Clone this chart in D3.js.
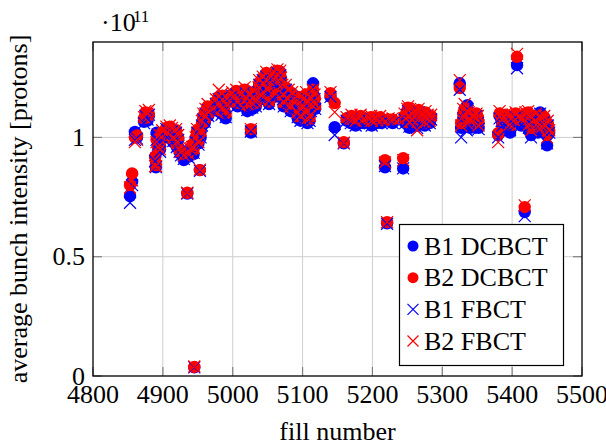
<!DOCTYPE html>
<html>
<head>
<meta charset="utf-8">
<script src="https://cdn.jsdelivr.net/npm/d3@7"></script>
<style>
  body { margin: 0; background: #fff; }
</style>
</head>
<body>
<div id="chart"></div>
<script>
// fill numbers and average bunch intensity (units of 1e11 protons)
const fills = [
  4853, 4856, 4860, 4863, 4873, 4875, 4878, 4880, 4889, 4890, 4891, 4893, 4895, 4896, 4899,
  4905, 4906, 4910, 4913, 4915, 4919, 4920, 4922, 4924, 4926, 4930, 4935, 4937, 4940, 4942,
  4944, 4945, 4947, 4949, 4951, 4953, 4954, 4956, 4958, 4960, 4961, 4964, 4965, 4976, 4979,
  4980, 4984, 4985, 4988, 4990, 4999, 5001, 5005, 5007, 5013, 5017, 5020, 5021, 5024, 5026,
  5028, 5029, 5030, 5033, 5037, 5038, 5040, 5043, 5045, 5048, 5050, 5052, 5056, 5059, 5060,
  5064, 5068, 5069, 5071, 5072, 5073, 5076, 5078, 5080, 5083, 5085, 5091, 5093, 5095, 5096,
  5097, 5101, 5102, 5105, 5106, 5107, 5108, 5110, 5111, 5112, 5115, 5117, 5118, 5140, 5146,
  5159, 5163, 5169, 5170, 5173, 5176, 5179, 5181, 5183, 5187, 5194, 5197, 5198, 5199, 5205,
  5206, 5211, 5213, 5218, 5221, 5223, 5229, 5244, 5246, 5247, 5250, 5251, 5252, 5253, 5254,
  5256, 5257, 5261, 5264, 5265, 5266, 5267, 5270, 5274, 5275, 5276, 5277, 5279, 5282, 5284,
  5325, 5327, 5330, 5331, 5332, 5335, 5336, 5338, 5339, 5340, 5345, 5348, 5349, 5351, 5352,
  5380, 5382, 5385, 5386, 5391, 5395, 5397, 5401, 5405, 5407, 5410, 5413, 5418, 5419, 5421,
  5423, 5424, 5426, 5427, 5433, 5434, 5437, 5440, 5441, 5443, 5446, 5448, 5450, 5451, 5453
];

const b1Dcbct = [
  0.754, 0.814, 1.023, 1.000, 1.065, 1.080, 1.070, 1.090, 0.920, 0.875, 1.020, 0.970, 0.990, 0.950, 1.010,
  1.030, 1.000, 1.040, 1.020, 0.980, 1.020, 0.960, 0.990, 0.940, 0.930, 0.905, 0.765, 0.920, 0.940, 0.950,
  0.930, 0.036, 0.990, 1.020, 0.975, 0.863, 1.000, 1.050, 1.080, 1.060, 1.100, 1.120, 1.090, 1.140, 1.110,
  1.160, 1.100, 1.170, 1.130, 1.080, 1.170, 1.150, 1.190, 1.130, 1.170, 1.190, 1.140, 1.110, 1.160, 1.020,
  1.120, 1.180, 1.150, 1.130, 1.190, 1.220, 1.160, 1.240, 1.200, 1.260, 1.180, 1.140, 1.250, 1.220, 1.170,
  1.270, 1.260, 1.230, 1.200, 1.160, 1.130, 1.200, 1.140, 1.180, 1.110, 1.170, 1.130, 1.080, 1.160, 1.100,
  1.070, 1.140, 1.110, 1.170, 1.090, 1.060, 1.130, 1.070, 1.150, 1.110, 1.227, 1.160, 1.120, 1.170, 1.043,
  0.975, 1.070, 1.060, 1.080, 1.070, 1.050, 1.070, 1.060, 1.080, 1.060, 1.070, 1.060, 1.080, 1.050, 1.070,
  1.060, 1.075, 1.060, 0.875, 0.640, 1.070, 1.060, 0.870, 1.080, 1.060, 1.090, 1.110, 1.070, 1.040, 1.100,
  1.080, 1.060, 1.090, 1.050, 1.080, 1.100, 1.060, 1.080, 1.070, 1.050, 1.090, 1.070, 1.080, 1.060, 1.080,
  1.227, 1.040, 1.080, 1.060, 1.100, 1.050, 1.135, 1.080, 1.060, 1.040, 1.070, 1.050, 1.090, 1.070, 1.040,
  1.010, 1.090, 1.070, 1.050, 1.080, 1.070, 1.020, 1.060, 1.090, 1.303, 1.070, 1.050, 0.687, 1.080, 1.060,
  1.090, 1.030, 1.070, 1.010, 1.050, 1.080, 1.020, 1.105, 1.060, 1.040, 1.070, 1.030, 0.967, 1.050, 1.020
];

const b2Dcbct = [
  0.800, 0.849, 1.000, 1.008, 1.080, 1.105, 1.085, 1.100, 0.918, 0.884, 0.990, 0.960, 1.000, 0.960, 1.020,
  1.040, 1.010, 1.045, 1.030, 0.990, 1.030, 0.970, 1.000, 0.950, 0.940, 0.930, 0.768, 0.935, 0.955, 0.970,
  0.950, 0.038, 1.000, 1.030, 0.985, 0.863, 1.020, 1.060, 1.090, 1.075, 1.110, 1.130, 1.100, 1.150, 1.125,
  1.170, 1.110, 1.175, 1.140, 1.100, 1.180, 1.165, 1.195, 1.145, 1.180, 1.200, 1.160, 1.130, 1.175, 1.035,
  1.140, 1.190, 1.165, 1.145, 1.200, 1.230, 1.175, 1.250, 1.220, 1.270, 1.190, 1.150, 1.265, 1.240, 1.185,
  1.280, 1.275, 1.245, 1.210, 1.175, 1.145, 1.210, 1.160, 1.195, 1.125, 1.185, 1.140, 1.100, 1.170, 1.120,
  1.085, 1.155, 1.125, 1.180, 1.100, 1.075, 1.140, 1.085, 1.165, 1.125, 1.200, 1.170, 1.135, 1.185, 1.144,
  0.980, 1.080, 1.075, 1.090, 1.085, 1.065, 1.080, 1.075, 1.090, 1.070, 1.080, 1.075, 1.085, 1.065, 1.080,
  1.070, 1.085, 1.070, 0.905, 0.645, 1.075, 1.075, 0.913, 1.090, 1.075, 1.110, 1.125, 1.085, 1.060, 1.115,
  1.095, 1.070, 1.105, 1.065, 1.100, 1.115, 1.075, 1.095, 1.085, 1.060, 1.105, 1.080, 1.090, 1.075, 1.090,
  1.207, 1.060, 1.100, 1.080, 1.120, 1.070, 1.100, 1.100, 1.085, 1.060, 1.090, 1.070, 1.100, 1.085, 1.060,
  1.018, 1.100, 1.090, 1.070, 1.095, 1.085, 1.050, 1.080, 1.100, 1.338, 1.085, 1.070, 0.708, 1.100, 1.080,
  1.105, 1.050, 1.085, 1.040, 1.065, 1.090, 1.040, 1.090, 1.080, 1.050, 1.085, 1.045, 1.010, 1.060, 1.030
];

const b1Fbct = [
  0.726, 0.800, 0.990, 0.995, 1.060, 1.090, 1.075, 1.095, 0.900, 0.876, 0.990, 0.970, 0.985, 0.940, 1.000,
  1.035, 1.000, 1.030, 1.025, 0.985, 1.020, 0.960, 0.990, 0.940, 0.925, 0.910, 0.765, 0.915, 0.940, 0.945,
  0.935, 0.036, 0.980, 1.020, 0.970, 0.860, 1.000, 1.050, 1.075, 1.065, 1.100, 1.115, 1.090, 1.140, 1.120,
  1.160, 1.095, 1.170, 1.130, 1.085, 1.175, 1.150, 1.180, 1.135, 1.165, 1.190, 1.145, 1.115, 1.160, 1.025,
  1.125, 1.180, 1.150, 1.130, 1.190, 1.220, 1.165, 1.240, 1.205, 1.255, 1.180, 1.140, 1.250, 1.225, 1.170,
  1.270, 1.260, 1.230, 1.195, 1.160, 1.130, 1.200, 1.145, 1.180, 1.110, 1.170, 1.125, 1.085, 1.155, 1.105,
  1.070, 1.140, 1.110, 1.165, 1.085, 1.060, 1.130, 1.070, 1.150, 1.110, 1.210, 1.160, 1.120, 1.170, 1.010,
  0.975, 1.070, 1.060, 1.080, 1.065, 1.050, 1.070, 1.060, 1.075, 1.055, 1.070, 1.060, 1.080, 1.050, 1.065,
  1.060, 1.070, 1.060, 0.880, 0.638, 1.065, 1.060, 0.870, 1.075, 1.060, 1.095, 1.110, 1.070, 1.045, 1.100,
  1.080, 1.050, 1.090, 1.040, 1.085, 1.105, 1.060, 1.080, 1.070, 1.050, 1.090, 1.070, 1.080, 1.060, 1.075,
  1.200, 1.000, 1.080, 1.060, 1.100, 1.030, 1.120, 1.080, 1.050, 1.040, 1.070, 1.050, 1.090, 1.060, 1.035,
  1.000, 1.080, 1.070, 1.050, 1.080, 1.065, 1.030, 1.060, 1.085, 1.290, 1.065, 1.050, 0.670, 1.080, 1.060,
  1.085, 1.040, 1.070, 1.000, 1.045, 1.075, 1.020, 1.100, 1.060, 1.030, 1.065, 1.030, 0.975, 1.050, 1.020
];

const b2Fbct = [
  0.790, 0.820, 0.980, 0.990, 1.085, 1.110, 1.100, 1.115, 0.880, 0.880, 0.980, 0.960, 1.010, 0.950, 1.030,
  1.045, 1.020, 1.050, 1.040, 1.000, 1.035, 0.980, 1.010, 0.955, 0.940, 0.925, 0.768, 0.930, 0.950, 0.960,
  0.955, 0.040, 1.000, 1.035, 0.980, 0.865, 1.030, 1.070, 1.100, 1.090, 1.120, 1.140, 1.110, 1.160, 1.140,
  1.200, 1.120, 1.185, 1.150, 1.110, 1.190, 1.170, 1.200, 1.150, 1.185, 1.210, 1.165, 1.140, 1.180, 1.035,
  1.145, 1.200, 1.170, 1.150, 1.210, 1.240, 1.180, 1.255, 1.225, 1.275, 1.200, 1.155, 1.270, 1.245, 1.190,
  1.285, 1.280, 1.250, 1.220, 1.180, 1.150, 1.220, 1.165, 1.200, 1.130, 1.190, 1.150, 1.105, 1.180, 1.125,
  1.090, 1.160, 1.130, 1.190, 1.110, 1.080, 1.150, 1.090, 1.170, 1.140, 1.200, 1.180, 1.140, 1.190, 1.106,
  0.978, 1.085, 1.080, 1.095, 1.080, 1.070, 1.085, 1.080, 1.095, 1.075, 1.085, 1.080, 1.090, 1.070, 1.085,
  1.075, 1.090, 1.075, 0.895, 0.645, 1.080, 1.080, 0.905, 1.100, 1.080, 1.120, 1.130, 1.090, 1.065, 1.120,
  1.100, 1.075, 1.110, 1.030, 1.105, 1.120, 1.080, 1.100, 1.090, 1.065, 1.110, 1.085, 1.095, 1.070, 1.095,
  1.240, 1.050, 1.120, 1.090, 1.140, 1.060, 1.110, 1.105, 1.080, 1.070, 1.095, 1.080, 1.100, 1.090, 1.050,
  0.980, 1.110, 1.095, 1.075, 1.100, 1.090, 1.055, 1.085, 1.105, 1.350, 1.090, 1.075, 0.715, 1.105, 1.085,
  1.110, 1.055, 1.090, 1.030, 1.070, 1.100, 1.045, 1.090, 1.085, 1.045, 1.090, 1.050, 1.000, 1.070, 1.030
];

const xTicks = [4800, 4900, 5000, 5100, 5200, 5300, 5400, 5500];
const yTicks = [0, 0.5, 1];
const yTickLabels = ['0', '0.5', '1'];

const series = [
  { name: 'B1 DCBCT', values: b1Dcbct, color: '#0000ff', mark: 'circle' },
  { name: 'B2 DCBCT', values: b2Dcbct, color: '#ff0000', mark: 'circle' },
  { name: 'B1 FBCT', values: b1Fbct, color: '#0000ff', mark: 'cross' },
  { name: 'B2 FBCT', values: b2Fbct, color: '#ff0000', mark: 'cross' },
];

const width = 606;
const height = 446;
const plot = { left: 93, right: 582, top: 42, bottom: 376 };
const fontSize = 26;
const serif = "'Liberation Serif', 'Times New Roman', Times, 'DejaVu Serif', serif";

const svg = d3.select('#chart')
  .append('svg')
  .attr('width', width)
  .attr('height', height)
  .attr('font-family', serif)
  .style('font-family', serif);

const x = d3.scaleLinear().domain([4800, 5500]).range([plot.left, plot.right]);
const y = d3.scaleLinear().domain([0, 1.4]).range([plot.bottom, plot.top]);

// grid lines
const grid = svg.append('g');
grid.selectAll('.gx').data(xTicks.slice(1, -1)).join('line')
  .attr('x1', (d) => x(d)).attr('x2', (d) => x(d))
  .attr('y1', plot.top).attr('y2', plot.bottom)
  .attr('stroke', '#cfcfcf').attr('stroke-width', 1);
grid.selectAll('.gy').data(yTicks.slice(1)).join('line')
  .attr('x1', plot.left).attr('x2', plot.right)
  .attr('y1', (d) => y(d)).attr('y2', (d) => y(d))
  .attr('stroke', '#cfcfcf').attr('stroke-width', 1);

// tick marks inside the frame, on all four sides
const tickLen = 9;
const ticks = svg.append('g').attr('stroke', '#808080').attr('stroke-width', 1.2);
xTicks.forEach((t) => {
  ticks.append('line').attr('x1', x(t)).attr('x2', x(t))
    .attr('y1', plot.bottom).attr('y2', plot.bottom - tickLen);
  ticks.append('line').attr('x1', x(t)).attr('x2', x(t))
    .attr('y1', plot.top).attr('y2', plot.top + tickLen);
});
yTicks.forEach((t) => {
  ticks.append('line').attr('x1', plot.left).attr('x2', plot.left + tickLen)
    .attr('y1', y(t)).attr('y2', y(t));
  ticks.append('line').attr('x1', plot.right).attr('x2', plot.right - tickLen)
    .attr('y1', y(t)).attr('y2', y(t));
});

// tick labels
svg.append('g').selectAll('text').data(xTicks).join('text')
  .attr('x', (d) => x(d))
  .attr('y', 403)
  .attr('text-anchor', 'middle')
  .attr('font-size', fontSize)
  .text((d) => d);

svg.append('g').selectAll('text').data(yTicks).join('text')
  .attr('x', plot.left - 8)
  .attr('y', (d) => y(d) + 8.5)
  .attr('text-anchor', 'end')
  .attr('font-size', fontSize)
  .text((d, i) => yTickLabels[i]);

// scale factor label
svg.append('text').attr('x', 101).attr('y', 31)
  .attr('font-size', fontSize).text('·10');
svg.append('text').attr('x', 133).attr('y', 22)
  .attr('font-size', 17).text('11');

// axis labels
svg.append('text')
  .attr('x', (plot.left + plot.right) / 2)
  .attr('y', 440)
  .attr('text-anchor', 'middle')
  .attr('font-size', fontSize)
  .text('fill number');

svg.append('text')
  .attr('transform', `translate(26.5, ${(plot.top + plot.bottom) / 2}) rotate(-90)`)
  .attr('text-anchor', 'middle')
  .attr('font-size', fontSize)
  .text('average bunch intensity [protons]');

// marks
const r = 6.2;
const s = 6;

function crossPath(cx, cy, h) {
  return `M${cx - h},${cy - h}L${cx + h},${cy + h}M${cx - h},${cy + h}L${cx + h},${cy - h}`;
}

series.forEach((ser) => {
  const g = svg.append('g');
  if (ser.mark === 'circle') {
    g.selectAll('circle').data(fills).join('circle')
      .attr('cx', (d) => x(d))
      .attr('cy', (d, i) => y(ser.values[i]))
      .attr('r', r)
      .attr('fill', ser.color);
  } else {
    g.selectAll('path').data(fills).join('path')
      .attr('d', (d, i) => crossPath(x(d), y(ser.values[i]), s))
      .attr('fill', 'none')
      .attr('stroke', ser.color)
      .attr('stroke-width', 1.2);
  }
});

// frame
svg.append('rect')
  .attr('x', plot.left).attr('y', plot.top)
  .attr('width', plot.right - plot.left).attr('height', plot.bottom - plot.top)
  .attr('fill', 'none').attr('stroke', '#000').attr('stroke-width', 1.3);

// legend
const legend = svg.append('g');
legend.append('rect')
  .attr('x', 399.5).attr('y', 224.5)
  .attr('width', 164).attr('height', 141)
  .attr('fill', '#fff').attr('stroke', '#000').attr('stroke-width', 1.2);

const legendY = d3.scalePoint().domain(series.map((d) => d.name)).range([246, 341]);

series.forEach((ser) => {
  const cy = legendY(ser.name);
  if (ser.mark === 'circle') {
    legend.append('circle').attr('cx', 413).attr('cy', cy).attr('r', 5.5).attr('fill', ser.color);
  } else {
    legend.append('path').attr('d', crossPath(413, cy, 5.5))
      .attr('stroke', ser.color).attr('stroke-width', 1.2).attr('fill', 'none');
  }
  legend.append('text')
    .attr('x', 424)
    .attr('y', cy + 8.5)
    .attr('font-size', fontSize)
    .text(ser.name);
});
</script>
</body>
</html>
